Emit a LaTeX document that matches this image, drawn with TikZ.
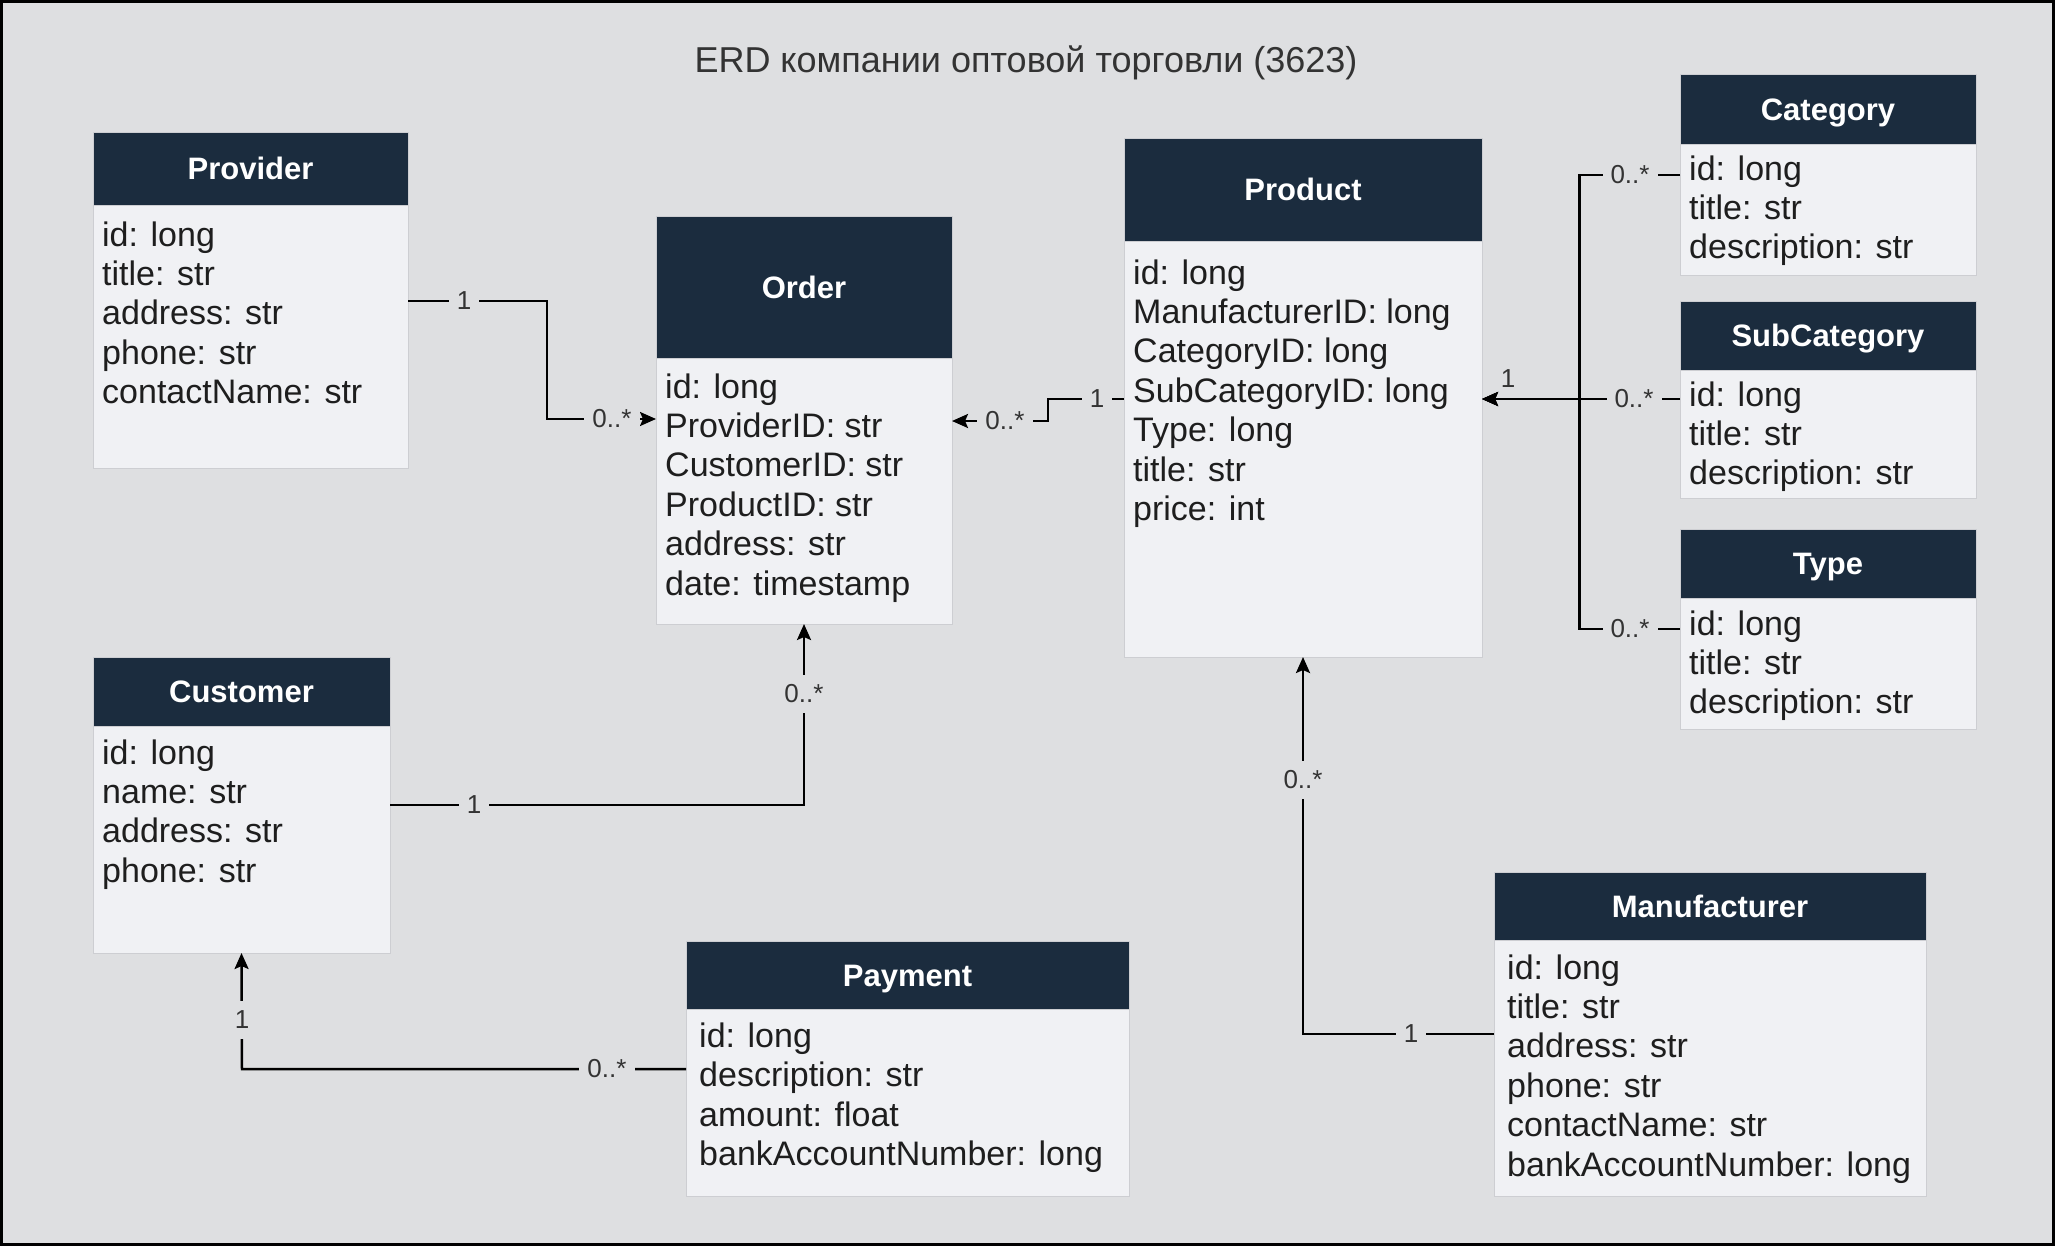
\documentclass[tikz,border=0pt]{standalone}
\usepackage{fontspec}
\setmainfont{Liberation Sans}
\usetikzlibrary{arrows.meta}
\definecolor{bg}{HTML}{DEDFE1}
\definecolor{hdr}{HTML}{1B2C3E}
\definecolor{bodyc}{HTML}{F0F1F4}
\definecolor{bord}{HTML}{CDCED2}
\definecolor{txt}{HTML}{1E1E1E}
\definecolor{lbl}{HTML}{333333}
\tikzset{
 bodybox/.style={draw=bord, line width=1pt, fill=bodyc, anchor=north west, inner sep=0pt, outer sep=0pt},
 headbox/.style={draw=bord, line width=1pt, fill=hdr, anchor=north west, inner sep=0pt, outer sep=0pt},
 headtxt/.style={text=white, font=\fontsize{31}{37}\selectfont\bfseries, anchor=base, inner sep=0pt},
 attr/.style={text=txt, font=\fontsize{34}{40}\selectfont, anchor=base west, inner sep=0pt},
 rel/.style={line width=2.5pt, draw=black},
 tip/.style={-{Stealth[length=16pt,width=14pt,inset=3pt]}},
 mult/.style={fill=bg, text=lbl, font=\fontsize{26}{30}\selectfont, inner xsep=8pt, inner ysep=10pt},
}
\def\padx{9}
\newcommand\entity[9]{%
 \node[bodybox, minimum width={(#4-#2)*1pt}, minimum height={(#5-#3)*1pt}] (#1) at (#2,#3) {};
 \node[headbox, minimum width={(#4-#2)*1pt}, minimum height={(#6-#3)*1pt}] (#1h) at (#2,#3) {};
 \node[headtxt] (#1t) at ({(#2+#4)/2}, {(#3+#6)/2+11}) {#7};
 \foreach \aline [count=\i] in {#9} {
  \node[attr] (#1-\i) at ({#2+\padx}, {#8+12+(\i-1)*39.4}) {\aline};
 }
}
\begin{document}
\begin{tikzpicture}[x=1pt,y=-1pt]
\useasboundingbox (0,0) rectangle (2056,1247);
\draw[line width=3pt, fill=bg] (1.5,1.5) rectangle (2053.5,1244.5);
\node[font=\fontsize{36}{42}\selectfont, text=lbl] (title) at (1026,63) {ERD компании оптовой торговли (3623)};

\entity{prov}{93}{132}{408}{468}{205.5}{Provider}{234}{id: long, title: str, address: str, phone: str, contactName: str}
\entity{ord}{656}{216}{952}{624}{358}{Order}{386}{id: long, ProviderID: str, CustomerID: str, ProductID: str, address: str, date: timestamp}
\entity{prod}{1124}{138}{1482}{657}{241}{Product}{272}{id: long, ManufacturerID: long, CategoryID: long, SubCategoryID: long, Type: long, title: str, price: int}
\entity{cat}{1680}{75}{1976}{275}{144}{Category}{168}{id: long, title: str, description: str}
\entity{sub}{1680}{301}{1976}{498}{370}{SubCategory}{394}{id: long, title: str, description: str}
\entity{type}{1680}{529}{1976}{729}{598}{Type}{623}{id: long, title: str, description: str}
\entity{cust}{93}{657}{390}{953}{726}{Customer}{752}{id: long, name: str, address: str, phone: str}
\def\padx{13}
\entity{pay}{686}{941}{1129}{1196}{1009}{Payment}{1035.5}{id: long, description: str, amount: float, bankAccountNumber: long}
\entity{manu}{1494}{872}{1926}{1196}{940}{Manufacturer}{967}{id: long, title: str, address: str, phone: str, contactName: str, bankAccountNumber: long}

\draw[rel,tip] (prov.east |- 0,301) -- (547,301) -- (547,419) -- (ord.west |- 0,419);
\draw[rel,tip] (prod.west |- 0,399) -- (1048,399) -- (1048,421) -- (ord.east |- 0,421);
\draw[rel,tip] (cust.east |- 0,805) -- (804,805) -- (ord.south);
\draw[rel,tip] (pay.west |- 0,1069) -- (242,1069) -- (cust.south);
\draw[rel,tip] (manu.west |- 0,1034) -- (1303,1034) -- (prod.south);
\draw[rel,tip] (cat.west |- 0,175) -- (1579.5,175) -- (1579.5,399) -- (prod.east |- 0,399);
\draw[rel,tip] (sub.west |- 0,399) -- (prod.east |- 0,399);
\draw[rel,tip] (type.west |- 0,629) -- (1579.5,629) -- (1579.5,399) -- (prod.east |- 0,399);

\node[mult] (l1a) at (464,301) {1};
\node[mult] (l1b) at (612,419) {0..*};
\node[mult] (l2a) at (1097,399) {1};
\node[mult] (l2b) at (1005,421) {0..*};
\node[mult] (l3a) at (474,805) {1};
\node[mult] (l3b) at (804,694) {0..*};
\node[mult] (l4a) at (607,1069) {0..*};
\node[mult] (l4b) at (242,1020) {1};
\node[mult] (l5a) at (1411,1034) {1};
\node[mult] (l5b) at (1303,780) {0..*};
\node[mult] (l6) at (1630,175) {0..*};
\node[mult] (l7) at (1634,399) {0..*};
\node[mult] (l8) at (1630,629) {0..*};
\node[mult, fill=none] (l7b) at (1508,379) {1};
\end{tikzpicture}
\end{document}
